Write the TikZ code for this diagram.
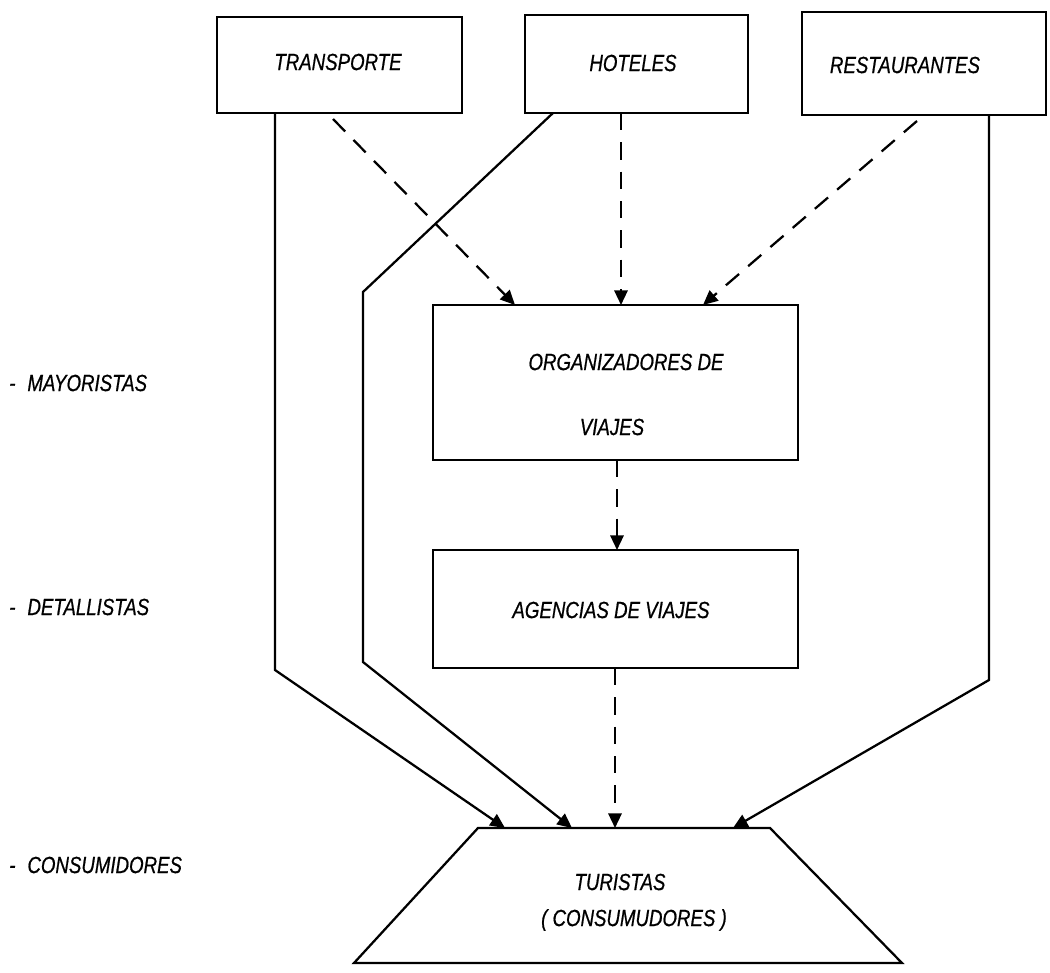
\documentclass[tikz,border=0pt]{standalone}
\usepackage{fontspec}
\newfontfamily\handfont{Liberation Sans}[FakeStretch=0.8, ItalicFeatures={FakeBold=0.7}]
\usetikzlibrary{arrows.meta}
\begin{document}
\begin{tikzpicture}[x=0.75pt,y=-0.75pt,
  box/.style={draw, line width=2pt, inner sep=0pt, outer sep=0pt},
  lbl/.style={font=\handfont\itshape\fontsize{17.5}{20}\selectfont, inner sep=0pt},
  tip/.style={-{Triangle[length=11pt,width=10pt]}},
  solidarr/.style={line width=1.7pt, tip},
  dasharr/.style={line width=1.7pt, dash pattern=on 13pt off 9pt, tip}
]
\useasboundingbox (0,0) rectangle (1050,972);

% boxes
\node[box, minimum width=245*0.75pt, minimum height=96*0.75pt] (T) at (339.5,65) {};
\node[box, minimum width=223*0.75pt, minimum height=98*0.75pt] (H) at (636.5,64) {};
\node[box, minimum width=244*0.75pt, minimum height=103*0.75pt] (R) at (924,63.5) {};
\node[box, minimum width=365*0.75pt, minimum height=155*0.75pt] (O) at (615.5,382.5) {};
\node[box, minimum width=365*0.75pt, minimum height=118*0.75pt] (A) at (615.5,609) {};

% trapezoid (turistas)
\coordinate (UTL) at (478,828);
\coordinate (UTR) at (770,828);
\coordinate (UBR) at (902,963);
\coordinate (UBL) at (354,963);
\draw[line width=1.7pt, line join=miter] (UTL) -- (UTR) -- (UBR) -- (UBL) -- cycle;
\coordinate (Utop) at (624,828);

% texts
\node[lbl] (Tt) at (338,62) {TRANSPORTE};
\node[lbl] (Ht) at (633,63) {HOTELES};
\node[lbl] (Rt) at (905,65) {RESTAURANTES};
\node[lbl] (Ot1) at (626,362) {ORGANIZADORES DE};
\node[lbl] (Ot2) at (612,427) {VIAJES};
\node[lbl] (At) at (611,610) {AGENCIAS DE VIAJES};
\node[lbl] (Tu1) at (620,882) {TURISTAS};
\node[lbl] (Tu2) at (634,920) {( CONSUMUDORES )};
\node[lbl, anchor=west] (L1) at (9,383) {-\hspace{9pt}MAYORISTAS};
\node[lbl, anchor=west] (L2) at (9,607) {-\hspace{9pt}DETALLISTAS};
\node[lbl, anchor=west] (L3) at (9,865) {-\hspace{9pt}CONSUMIDORES};

% helper x positions
\coordinate (xTs) at (275,0);
\coordinate (xHs) at (553,0);
\coordinate (xHd) at (621,0);
\coordinate (xRs) at (989,0);
\coordinate (xOT) at (515,0);
\coordinate (xOR) at (703,0);
\coordinate (xOA) at (617,0);
\coordinate (xAT) at (615,0);
\coordinate (xU1) at (505,0);
\coordinate (xU2) at (572,0);
\coordinate (xU3) at (733,0);
\coordinate (Td) at (333,119);
\coordinate (Rd) at (917,121);

% solid connectors
\draw[solidarr] (xTs |- T.south) -- (275,670) -- (xU1 |- Utop);
\draw[solidarr] (xHs |- H.south) -- (363,292) -- (363,662) -- (xU2 |- Utop);
\draw[solidarr] (xRs |- R.south) -- (989,680) -- (xU3 |- Utop);

% dashed connectors
\draw[dasharr] (Td) -- (xOT |- O.north);
\draw[dasharr] (xHd |- H.south) -- (xHd |- O.north);
\draw[dasharr] (Rd) -- (xOR |- O.north);
\draw[dasharr] (xOA |- O.south) -- (xOA |- A.north);
\draw[dasharr] (xAT |- A.south) -- (xAT |- Utop);
\end{tikzpicture}
\end{document}
